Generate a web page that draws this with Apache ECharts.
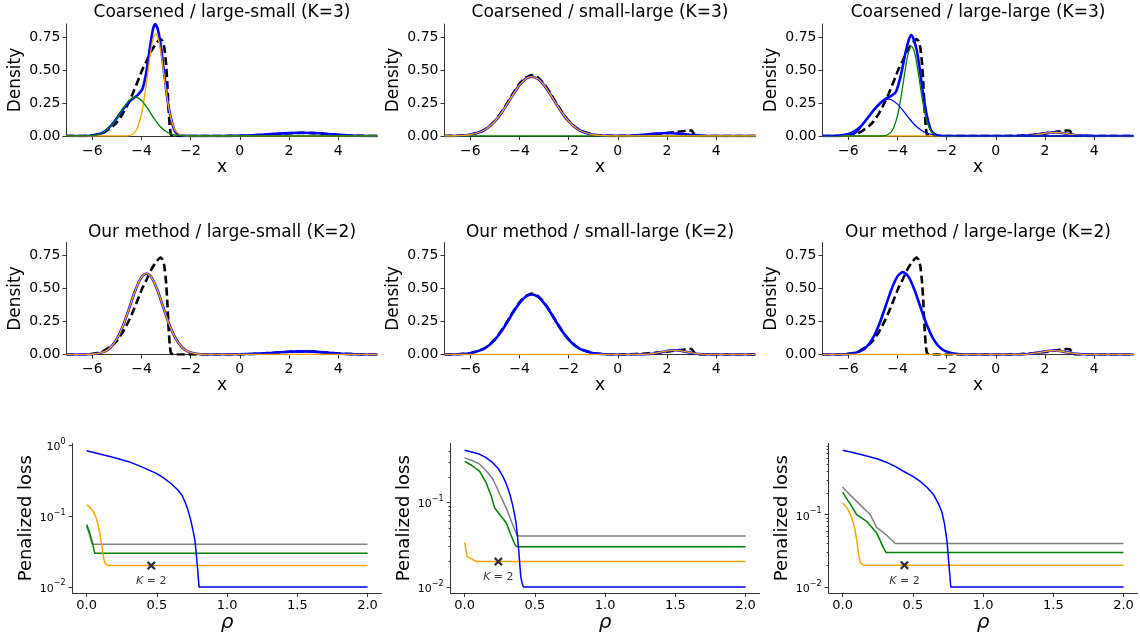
<!DOCTYPE html>
<html>
<head>
<meta charset="utf-8">
<script src="https://cdn.jsdelivr.net/npm/echarts@6/dist/echarts.min.js"></script>
<style>
  html, body { margin: 0; padding: 0; background: #ffffff; }
  #chart { width: 1140px; height: 637px; }
</style>
</head>
<body>
<div id="chart"></div>
<script>
// ---------- tick values and labels ----------
const xTicks = [-6, -4, -2, 0, 2, 4];
const densityTicks = [0, 0.25, 0.5, 0.75];
const rhoTicks = [0, 0.5, 1, 1.5, 2];
const lossMajorTicks = [0.01, 0.1, 1];
const lossMinorTicks = [0.02, 0.03, 0.04, 0.05, 0.06, 0.07, 0.08, 0.09, 0.2, 0.3, 0.4, 0.5, 0.6, 0.7, 0.8, 0.9];
const lossRanges = [[0.0082, 1.066], [0.00849, 0.497], [0.00825, 0.969]];
const densityTitles = [
  'Coarsened / large-small (K=3)', 'Coarsened / small-large (K=3)', 'Coarsened / large-large (K=3)',
  'Our method / large-small (K=2)', 'Our method / small-large (K=2)', 'Our method / large-large (K=2)'
];

// ---------- true densities (x, density) ----------
const trueLargeSmall = [[-7.05,0],[-6.5,0],[-6.0,0.005],[-5.6,0.02],[-5.3,0.055],[-5.15,0.077],[-5.0,0.105],[-4.75,0.172],[-4.5,0.262],[-4.35,0.324],[-4.1,0.44],[-3.95,0.51],[-3.8,0.565],[-3.6,0.645],[-3.45,0.69],[-3.3,0.725],[-3.22,0.735],[-3.14,0.72],[-3.07,0.67],[-3.0,0.55],[-2.95,0.4],[-2.9,0.21],[-2.85,0.07],[-2.8,0.01],[-2.7,0],[0,0],[0.5,0.004],[1.0,0.009],[1.5,0.015],[2.0,0.021],[2.5,0.024],[3.0,0.022],[3.5,0.015],[4.0,0.008],[4.5,0.003],[5.0,0.001],[5.6,0]];
const trueSmallLarge = [[-7.05,0],[-6.5,0.002],[-6.0,0.01],[-5.5,0.039],[-5.25,0.07],[-5.0,0.115],[-4.75,0.176],[-4.5,0.249],[-4.25,0.327],[-4.0,0.396],[-3.75,0.444],[-3.5,0.462],[-3.25,0.444],[-3.0,0.396],[-2.75,0.327],[-2.5,0.249],[-2.25,0.176],[-2.0,0.115],[-1.75,0.07],[-1.5,0.039],[-1.0,0.01],[-0.5,0.002],[0,0],[0.5,0.002],[1.0,0.006],[1.5,0.013],[2.0,0.022],[2.4,0.031],[2.7,0.038],[2.9,0.043],[3.0,0.041],[3.07,0.025],[3.12,0.008],[3.17,0],[5.6,0]];
const trueLargeLarge = [[-7.05,0],[-6.5,0],[-6.0,0.005],[-5.6,0.02],[-5.3,0.055],[-5.15,0.077],[-5.0,0.105],[-4.75,0.172],[-4.5,0.262],[-4.35,0.324],[-4.1,0.44],[-3.95,0.51],[-3.8,0.565],[-3.6,0.645],[-3.45,0.69],[-3.3,0.725],[-3.22,0.735],[-3.14,0.72],[-3.07,0.67],[-3.0,0.55],[-2.95,0.4],[-2.9,0.21],[-2.85,0.07],[-2.8,0.01],[-2.7,0],[0.5,0],[1.0,0.003],[1.5,0.01],[2.0,0.02],[2.4,0.03],[2.7,0.038],[2.9,0.042],[3.0,0.04],[3.07,0.024],[3.12,0.008],[3.17,0],[5.6,0]];

// ---------- coarsened fits, K=3 ----------
const coarseLSMix = [[-7.05,0],[-6.2,0],[-5.9,0.008],[-5.56,0.025],[-5.16,0.096],[-4.75,0.203],[-4.42,0.274],[-4.15,0.312],[-3.95,0.362],[-3.79,0.5],[-3.65,0.68],[-3.54,0.805],[-3.44,0.85],[-3.33,0.805],[-3.2,0.666],[-3.07,0.464],[-2.94,0.274],[-2.8,0.134],[-2.63,0.033],[-2.4,0.003],[-2.0,0],[-0.5,0.001],[0,0.003],[0.5,0.006],[1.0,0.011],[1.5,0.017],[2.0,0.022],[2.5,0.025],[3.0,0.023],[3.5,0.017],[4.0,0.009],[4.5,0.004],[5.0,0.001],[5.6,0]];
const coarseLSOrange = [[-7.05,0],[-4.6,0],[-4.4,0.009],[-4.2,0.047],[-4.0,0.165],[-3.9,0.269],[-3.8,0.4],[-3.7,0.541],[-3.6,0.668],[-3.5,0.753],[-3.42,0.775],[-3.3,0.725],[-3.2,0.62],[-3.1,0.484],[-3.0,0.345],[-2.9,0.224],[-2.8,0.133],[-2.7,0.072],[-2.6,0.035],[-2.4,0.007],[-2.2,0.001],[-2.0,0],[5.6,0]];
const coarseLSGreen = [[-7.05,0],[-6.5,0.001],[-6.0,0.004],[-5.75,0.013],[-5.5,0.034],[-5.25,0.074],[-5.0,0.135],[-4.75,0.209],[-4.5,0.27],[-4.25,0.295],[-4.0,0.27],[-3.75,0.209],[-3.5,0.135],[-3.25,0.074],[-3.0,0.034],[-2.75,0.013],[-2.5,0.004],[-2.25,0.001],[-2.0,0],[5.6,0]];

const coarseSLMix = [[-7.05,0],[-6.5,0.002],[-6.0,0.0095],[-5.5,0.038],[-5.25,0.068],[-5.0,0.112],[-4.75,0.171],[-4.5,0.243],[-4.25,0.318],[-4.0,0.386],[-3.75,0.433],[-3.5,0.45],[-3.25,0.433],[-3.0,0.386],[-2.75,0.318],[-2.5,0.243],[-2.25,0.171],[-2.0,0.112],[-1.75,0.068],[-1.5,0.038],[-1.0,0.0095],[-0.5,0.002],[0,0.0006],[0.5,0.0023],[1.0,0.0083],[1.5,0.0178],[2.0,0.023],[2.5,0.0178],[3.0,0.0083],[3.5,0.0023],[4.0,0.0004],[4.5,0],[5.6,0]];
const coarseSLOrange = [[-7.05,0],[-6.5,0.002],[-6.0,0.0095],[-5.5,0.038],[-5.25,0.068],[-5.0,0.112],[-4.75,0.171],[-4.5,0.243],[-4.25,0.318],[-4.0,0.386],[-3.75,0.433],[-3.5,0.45],[-3.25,0.433],[-3.0,0.386],[-2.75,0.318],[-2.5,0.243],[-2.25,0.171],[-2.0,0.112],[-1.75,0.068],[-1.5,0.038],[-1.0,0.0095],[-0.5,0.002],[0,0],[5.6,0]];
const coarseSLGreen = [[-7.05,0],[5.6,0]];

const coarseLLMix = [[-7.05,0],[-6.2,0.003],[-5.9,0.012],[-5.68,0.03],[-5.28,0.121],[-4.87,0.218],[-4.54,0.274],[-4.26,0.304],[-4.06,0.336],[-3.86,0.463],[-3.68,0.628],[-3.54,0.73],[-3.45,0.767],[-3.36,0.742],[-3.22,0.654],[-3.09,0.502],[-2.95,0.311],[-2.81,0.16],[-2.64,0.046],[-2.43,0.008],[-2.2,0.001],[0.8,0],[1.0,0.0006],[1.3,0.0025],[1.6,0.0078],[1.9,0.017],[2.1,0.0234],[2.4,0.028],[2.7,0.0234],[2.9,0.017],[3.2,0.0078],[3.5,0.0025],[3.8,0.0006],[4.0,0],[5.6,0]];
const coarseLLBlue = [[-7.05,0.001],[-6.5,0.003],[-6.0,0.019],[-5.75,0.041],[-5.5,0.078],[-5.25,0.129],[-5.0,0.189],[-4.75,0.244],[-4.5,0.276],[-4.38,0.28],[-4.25,0.275],[-4.0,0.242],[-3.75,0.187],[-3.5,0.127],[-3.25,0.076],[-3.0,0.04],[-2.75,0.019],[-2.5,0.008],[-2.25,0.003],[-2.0,0.001],[-1.5,0],[5.6,0]];
const coarseLLGreen = [[-7.05,0],[-4.6,0],[-4.4,0.009],[-4.2,0.045],[-4.0,0.153],[-3.9,0.247],[-3.8,0.363],[-3.7,0.486],[-3.6,0.595],[-3.5,0.665],[-3.43,0.68],[-3.3,0.629],[-3.2,0.533],[-3.1,0.413],[-3.0,0.291],[-2.9,0.187],[-2.8,0.11],[-2.7,0.059],[-2.6,0.029],[-2.4,0.005],[-2.2,0.001],[-2.0,0],[5.6,0]];
const coarseLLOrange = [[-7.05,0],[0.8,0],[1.0,0.0006],[1.3,0.0025],[1.6,0.0078],[1.9,0.017],[2.1,0.0234],[2.4,0.028],[2.7,0.0234],[2.9,0.017],[3.2,0.0078],[3.5,0.0025],[3.8,0.0006],[4.0,0],[5.6,0]];

// ---------- our method, K=2 ----------
const oursLSMix = [[-7.05,0],[-6.5,0],[-6.0,0.002],[-5.5,0.022],[-5.25,0.055],[-5.0,0.118],[-4.75,0.218],[-4.5,0.35],[-4.25,0.487],[-4.0,0.587],[-3.8,0.615],[-3.6,0.587],[-3.35,0.487],[-3.1,0.35],[-2.85,0.218],[-2.6,0.118],[-2.35,0.055],[-2.1,0.022],[-1.6,0.002],[-1.0,0],[-0.5,0.001],[0,0.002],[0.5,0.005],[1.0,0.009],[1.5,0.015],[2.0,0.021],[2.5,0.024],[3.0,0.022],[3.5,0.015],[4.0,0.008],[4.5,0.003],[5.0,0.001],[5.6,0]];
const oursLSOrange = [[-7.05,0],[-6.5,0],[-6.0,0.002],[-5.5,0.022],[-5.25,0.055],[-5.0,0.118],[-4.75,0.218],[-4.5,0.35],[-4.25,0.487],[-4.0,0.587],[-3.8,0.615],[-3.6,0.587],[-3.35,0.487],[-3.1,0.35],[-2.85,0.218],[-2.6,0.118],[-2.35,0.055],[-2.1,0.022],[-1.6,0.002],[-1.0,0],[5.6,0]];

const oursSLMix = [[-7.05,0],[-6.5,0.0018],[-6.0,0.0096],[-5.5,0.0385],[-5.25,0.0687],[-5.0,0.113],[-4.75,0.173],[-4.5,0.245],[-4.25,0.322],[-4.0,0.39],[-3.75,0.438],[-3.5,0.455],[-3.25,0.438],[-3.0,0.39],[-2.75,0.322],[-2.5,0.245],[-2.25,0.173],[-2.0,0.113],[-1.75,0.0687],[-1.5,0.0385],[-1.0,0.0096],[-0.5,0.0018],[0,0.0002],[1.0,0.001],[1.3,0.004],[1.6,0.012],[1.9,0.023],[2.1,0.03],[2.3,0.032],[2.5,0.03],[2.7,0.023],[3.0,0.012],[3.3,0.004],[3.6,0.001],[4.0,0],[5.6,0]];
const oursSLOrange = [[-7.05,0],[0.7,0],[1.0,0.001],[1.3,0.004],[1.6,0.012],[1.9,0.023],[2.1,0.03],[2.3,0.032],[2.5,0.03],[2.7,0.023],[3.0,0.012],[3.3,0.004],[3.6,0.001],[4.0,0],[5.6,0]];

const oursLLMix = [[-7.05,0],[-6.5,0],[-6.0,0.003],[-5.5,0.0255],[-5.25,0.06],[-5.0,0.125],[-4.75,0.226],[-4.5,0.357],[-4.25,0.492],[-4.0,0.593],[-3.78,0.625],[-3.56,0.593],[-3.31,0.492],[-3.06,0.357],[-2.81,0.226],[-2.56,0.125],[-2.31,0.06],[-2.06,0.0255],[-1.56,0.003],[-1.0,0],[0.7,0],[1.0,0.0008],[1.3,0.0033],[1.6,0.0097],[1.9,0.02],[2.1,0.0265],[2.35,0.03],[2.6,0.0265],[2.8,0.02],[3.1,0.0097],[3.4,0.0033],[3.7,0.0008],[4.0,0],[5.6,0]];
const oursLLOrange = [[-7.05,0],[0.7,0],[1.0,0.0008],[1.3,0.0033],[1.6,0.0097],[1.9,0.02],[2.1,0.0265],[2.35,0.03],[2.6,0.0265],[2.8,0.02],[3.1,0.0097],[3.4,0.0033],[3.7,0.0008],[4.0,0],[5.6,0]];

// ---------- penalized loss against rho (rho, loss) ----------
const lossLSBlue = [[0,0.84],[0.1,0.75],[0.2,0.67],[0.3,0.59],[0.4,0.49],[0.5,0.4],[0.55,0.345],[0.6,0.29],[0.65,0.235],[0.68,0.195],[0.7,0.16],[0.72,0.125],[0.74,0.09],[0.755,0.066],[0.77,0.047],[0.78,0.03],[0.79,0.018],[0.8,0.01],[2.0,0.01]];
const lossLSOrange = [[0,0.145],[0.025,0.132],[0.047,0.116],[0.065,0.098],[0.082,0.075],[0.095,0.055],[0.106,0.042],[0.118,0.027],[0.13,0.022],[0.15,0.02],[2.0,0.02]];
const lossLSGreen = [[0,0.076],[0.02,0.06],[0.04,0.043],[0.057,0.03],[2.0,0.03]];
const lossLSGray = [[0,0.072],[0.02,0.055],[0.04,0.04],[2.0,0.04]];

const lossSLBlue = [[0,0.414],[0.05,0.395],[0.107,0.37],[0.15,0.34],[0.2,0.295],[0.24,0.25],[0.271,0.205],[0.29,0.175],[0.307,0.148],[0.325,0.12],[0.342,0.093],[0.355,0.073],[0.366,0.057],[0.376,0.04],[0.385,0.027],[0.393,0.018],[0.4,0.013],[0.41,0.011],[0.418,0.01],[2.0,0.01]];
const lossSLOrange = [[0,0.0335],[0.017,0.023],[0.083,0.02],[2.0,0.02]];
const lossSLGreen = [[0,0.306],[0.05,0.275],[0.107,0.233],[0.154,0.17],[0.19,0.118],[0.214,0.086],[0.25,0.072],[0.297,0.057],[0.33,0.041],[0.357,0.032],[0.37,0.03],[2.0,0.03]];
const lossSLGray = [[0,0.336],[0.05,0.315],[0.107,0.283],[0.15,0.24],[0.2,0.19],[0.225,0.155],[0.25,0.125],[0.297,0.085],[0.345,0.053],[0.375,0.04],[2.0,0.04]];

const lossLLBlue = [[0,0.78],[0.08,0.72],[0.171,0.65],[0.25,0.59],[0.314,0.53],[0.38,0.46],[0.433,0.4],[0.5,0.34],[0.552,0.29],[0.6,0.24],[0.647,0.19],[0.68,0.145],[0.706,0.11],[0.725,0.075],[0.742,0.045],[0.75,0.03],[0.758,0.019],[0.765,0.013],[0.77,0.01],[2.0,0.01]];
const lossLLOrange = [[0,0.146],[0.03,0.125],[0.052,0.105],[0.07,0.085],[0.088,0.062],[0.1,0.045],[0.112,0.03],[0.124,0.022],[0.148,0.02],[2.0,0.02]];
const lossLLGreen = [[0,0.204],[0.05,0.145],[0.1,0.1],[0.171,0.081],[0.242,0.056],[0.29,0.035],[0.31,0.03],[2.0,0.03]];
const lossLLGray = [[0,0.243],[0.05,0.19],[0.1,0.153],[0.195,0.101],[0.242,0.067],[0.314,0.052],[0.374,0.04],[2.0,0.04]];

// selected model markers
const kMarkRho = [0.46, 0.24, 0.44];
const kMarkLoss = [0.02, 0.02, 0.02];

// ---------- chart assembly ----------
const FONT = 'DejaVu Sans';
const C = { blue: '#0000ff', orange: '#ffa500', green: '#008000', gray: '#808080', black: '#000000' };
const AXIS_COLOR = '#333333';

const densityPanels = [
  { col: 0, row: 0, lines: [['true', trueLargeSmall], ['mix', coarseLSMix], ['orange', coarseLSOrange], ['green', coarseLSGreen]] },
  { col: 1, row: 0, lines: [['true', trueSmallLarge], ['mix', coarseSLMix], ['green', coarseSLGreen], ['orange', coarseSLOrange]] },
  { col: 2, row: 0, lines: [['true', trueLargeLarge], ['mix', coarseLLMix], ['orange', coarseLLOrange], ['green', coarseLLGreen], ['blue', coarseLLBlue]] },
  { col: 0, row: 1, lines: [['true', trueLargeSmall], ['mix', oursLSMix], ['orange', oursLSOrange]] },
  { col: 1, row: 1, lines: [['true', trueSmallLarge], ['mix', oursSLMix], ['orange', oursSLOrange]] },
  { col: 2, row: 1, lines: [['true', trueLargeLarge], ['mix', oursLLMix], ['orange', oursLLOrange]] }
];
const lossPanels = [
  [lossLSGray, lossLSGreen, lossLSOrange, lossLSBlue],
  [lossSLGray, lossSLGreen, lossSLOrange, lossSLBlue],
  [lossLLGray, lossLLGreen, lossLLOrange, lossLLBlue]
];

const minus = v => (v < 0 ? '\u2212' + Math.abs(v) : String(v));
const grids = [], xAxes = [], yAxes = [], series = [], graphics = [];

const axisLineStyle = { show: true, onZero: false, lineStyle: { color: AXIS_COLOR, width: 1 } };
const tickStyle = (vals, len) => ({ show: true, inside: false, length: len, customValues: vals, lineStyle: { color: AXIS_COLOR, width: 1 } });

function lineStyleFor(kind) {
  if (kind === 'true') return { color: C.black, width: 2.6, type: [8, 4] };
  if (kind === 'mix') return { color: C.blue, width: 2.6 };
  return { color: C[kind], width: 1.3 };
}

densityPanels.forEach((p, i) => {
  const left = 66.5 + 378 * p.col;
  const top = p.row === 0 ? 24 : 242.5;
  grids.push({ left, top, width: 311, height: 112 });
  xAxes.push({
    gridIndex: i, type: 'value', min: -7.05, max: 5.6,
    name: 'x', nameLocation: 'middle', nameGap: 23,
    nameTextStyle: { fontFamily: FONT, fontSize: 17, color: '#000' },
    axisLine: axisLineStyle, axisTick: tickStyle(xTicks, 4),
    axisLabel: { customValues: xTicks, formatter: minus, fontFamily: FONT, fontSize: 14, color: '#000', margin: 8 },
    splitLine: { show: false }
  });
  yAxes.push({
    gridIndex: i, type: 'value', min: 0, max: 0.85,
    name: 'Density', nameLocation: 'middle', nameGap: 42,
    nameTextStyle: { fontFamily: FONT, fontSize: 17, color: '#000' },
    axisLine: axisLineStyle, axisTick: tickStyle(densityTicks, 4),
    axisLabel: { customValues: densityTicks, formatter: v => v.toFixed(2), fontFamily: FONT, fontSize: 14, color: '#000', margin: 6 },
    splitLine: { show: false }
  });
  graphics.push({
    type: 'text', x: left + 155.5, y: p.row === 0 ? 12.8 : 232.9, silent: true,
    style: { text: densityTitles[i], fill: '#000', font: '17px "DejaVu Sans"', textAlign: 'center', textVerticalAlign: 'middle' }
  });
  p.lines.forEach(([kind, data]) => {
    series.push({
      type: 'line', xAxisIndex: i, yAxisIndex: i, data,
      showSymbol: false, symbol: 'none', smooth: kind === 'true' ? 0.1 : 0.25,
      lineStyle: lineStyleFor(kind), silent: true, animation: false, clip: true
    });
  });
});

lossPanels.forEach((lines, c) => {
  const gi = 6 + c;
  const left = 72.6 + 378 * c;
  grids.push({ left, top: 443.5, width: 309, height: 149.5 });
  xAxes.push({
    gridIndex: gi, type: 'value', min: -0.1, max: 2.1,
    name: '\u03c1', nameLocation: 'middle', nameGap: 17,
    nameTextStyle: { fontFamily: FONT, fontSize: 20, fontStyle: 'italic', color: '#000' },
    axisLine: axisLineStyle, axisTick: tickStyle(rhoTicks, 4),
    axisLabel: { customValues: rhoTicks, formatter: v => v.toFixed(1), fontFamily: FONT, fontSize: 13, color: '#000', margin: 6 },
    splitLine: { show: false }
  });
  yAxes.push({
    gridIndex: gi, type: 'log', logBase: 10, min: lossRanges[c][0], max: lossRanges[c][1],
    name: 'Penalized loss', nameLocation: 'middle', nameGap: 37,
    nameTextStyle: { fontFamily: FONT, fontSize: 18, color: '#000' },
    axisLine: axisLineStyle, axisTick: tickStyle(lossMajorTicks, 4),
    axisLabel: {
      customValues: lossMajorTicks, margin: 7, fontFamily: FONT, color: '#000',
      formatter: v => { const e = Math.round(Math.log10(v)); return '{b|10}{s|' + minus(e) + '}'; },
      rich: {
        b: { fontFamily: FONT, fontSize: 11, lineHeight: 15, verticalAlign: 'bottom', color: '#000' },
        s: { fontFamily: FONT, fontSize: 8, lineHeight: 9, verticalAlign: 'top', color: '#000' }
      }
    },
    splitLine: { show: false }
  });
  const colors = [C.gray, C.green, C.orange, C.blue];
  lines.forEach((data, k) => {
    series.push({
      type: 'line', xAxisIndex: gi, yAxisIndex: gi, data,
      showSymbol: false, symbol: 'none', smooth: false,
      lineStyle: { color: colors[k], width: 1.5 }, silent: true, animation: false, clip: true
    });
  });
  series.push({
    type: 'scatter', xAxisIndex: gi, yAxisIndex: gi,
    data: [[kMarkRho[c], kMarkLoss[c]]],
    symbol: 'path://M0,1.8L1.8,0L5,3.2L8.2,0L10,1.8L6.8,5L10,8.2L8.2,10L5,6.8L1.8,10L0,8.2L3.2,5Z',
    symbolSize: 9, itemStyle: { color: '#000' }, silent: true, animation: false, z: 5,
    label: {
      show: true, position: 'bottom', distance: 6, formatter: '{i|K} = 2',
      fontFamily: FONT, fontSize: 11, color: '#000',
      rich: { i: { fontFamily: FONT, fontSize: 11, fontStyle: 'italic', color: '#000' } }
    }
  });
});

// minor ticks of the logarithmic loss axes (middle and right panels)
[1, 2].forEach(c => {
  yAxes.push({
    gridIndex: 6 + c, type: 'log', logBase: 10, position: 'left', offset: 0,
    min: lossRanges[c][0], max: lossRanges[c][1],
    axisLine: { show: false, onZero: false }, axisTick: tickStyle(lossMinorTicks, 2),
    axisLabel: { show: false }, splitLine: { show: false }
  });
});

const chart = echarts.init(document.getElementById('chart'), null, { renderer: 'canvas' });
chart.setOption({
  backgroundColor: '#ffffff',
  animation: false,
  grid: grids,
  xAxis: xAxes,
  yAxis: yAxes,
  series,
  graphic: graphics
});
</script>
</body>
</html>
